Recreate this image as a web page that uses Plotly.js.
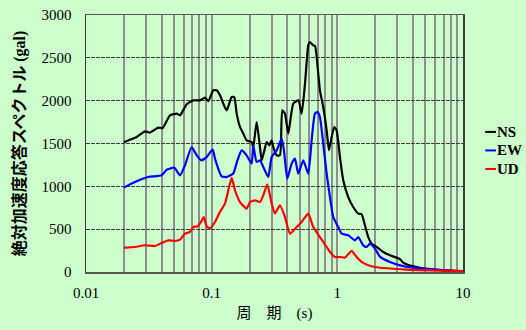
<!DOCTYPE html>
<html>
<head>
<meta charset="utf-8">
<script src="https://cdn.plot.ly/plotly-3.0.1.min.js"></script>
<style>
  html, body { margin: 0; padding: 0; background: #ccffcc; }
  #chart { width: 526px; height: 330px; }
</style>
</head>
<body>
<div id="chart"></div>
<script>
// Absolute acceleration response spectra (gal) versus period (s), three components.
const nsPeriod = [0.02, 0.0253, 0.0295, 0.0323, 0.0376, 0.0407, 0.0466, 0.0527, 0.056, 0.0633, 0.0714, 0.0807, 0.0885, 0.094, 0.103, 0.1096, 0.1164, 0.1237, 0.1317, 0.1443, 0.1514, 0.1581, 0.168, 0.1784, 0.1898, 0.2081, 0.2143, 0.228, 0.2423, 0.25, 0.2608, 0.274, 0.2873, 0.3002, 0.3091, 0.329, 0.3494, 0.3645, 0.383, 0.4068, 0.446, 0.49, 0.52, 0.553, 0.587, 0.605, 0.643, 0.664, 0.705, 0.727, 0.772, 0.822, 0.8575, 0.901, 0.945, 0.987, 1.049, 1.114, 1.221, 1.338, 1.467, 1.561, 1.658, 1.762, 1.875, 2.054, 2.318, 2.621, 2.963, 3.148, 3.345, 4.017, 5.134, 6.96, 10];
const nsAccel  = [1515, 1576, 1642, 1627, 1686, 1681, 1829, 1849, 1829, 1958, 2004, 2004, 2036, 1993, 2121, 2121, 2063, 1966, 1887, 2043, 2039, 1849, 1693, 1616, 1537, 1517, 1459, 1751, 1459, 1304, 1401, 1517, 1479, 1537, 1459, 1362, 1362, 1888, 1849, 1616, 1966, 2004, 1849, 2200, 2646, 2685, 2646, 2640, 2316, 2121, 1926, 1654, 1420, 1576, 1693, 1654, 1342, 1070, 875, 759, 682, 674, 545, 408, 331, 292, 233, 195, 168, 150, 110, 65, 35, 20, 8];

const ewPeriod = [0.02, 0.0245, 0.0313, 0.04, 0.0439, 0.0466, 0.0504, 0.056, 0.0613, 0.0693, 0.076, 0.0822, 0.0913, 0.1018, 0.1062, 0.1201, 0.1317, 0.1485, 0.16, 0.1733, 0.1898, 0.2081, 0.2143, 0.228, 0.2423, 0.2574, 0.2821, 0.3002, 0.329, 0.3605, 0.376, 0.3994, 0.433, 0.46, 0.4887, 0.5355, 0.5869, 0.6245, 0.6635, 0.697, 0.7271, 0.7724, 0.8222, 0.8734, 0.9278, 1.017, 1.082, 1.221, 1.38, 1.467, 1.607, 1.711, 1.817, 1.991, 2.183, 2.621, 3.148, 4.017, 5.794, 7.4, 10];
const ewAccel  = [985, 1051, 1109, 1129, 1195, 1207, 1219, 1129, 1245, 1459, 1362, 1304, 1342, 1429, 1324, 1117, 1109, 1149, 1300, 1420, 1362, 1265, 1479, 1284, 1304, 1226, 1109, 1342, 1420, 1557, 1420, 1090, 1265, 1324, 1149, 1304, 1149, 1537, 1849, 1868, 1809, 1499, 1149, 875, 642, 525, 448, 428, 370, 408, 311, 292, 331, 273, 180, 117, 78, 51, 31, 20, 8];

const udPeriod = [0.02, 0.0245, 0.0295, 0.0354, 0.04, 0.0452, 0.051, 0.056, 0.0613, 0.0672, 0.0714, 0.0774, 0.0822, 0.0864, 0.0913, 0.0969, 0.1062, 0.1164, 0.1276, 0.1443, 0.1532, 0.168, 0.1898, 0.2017, 0.2211, 0.2423, 0.2574, 0.277, 0.3002, 0.3189, 0.3494, 0.383, 0.4197, 0.4746, 0.52, 0.5869, 0.6432, 0.7271, 0.8222, 0.8734, 0.957, 1.049, 1.15, 1.30, 1.424, 1.561, 1.762, 1.991, 3.558, 9.45, 10];
const udAccel  = [285, 292, 312, 303, 339, 370, 362, 378, 448, 467, 525, 533, 584, 642, 533, 507, 584, 700, 798, 1100, 954, 817, 740, 817, 837, 817, 895, 1024, 798, 682, 779, 642, 448, 525, 584, 682, 525, 408, 292, 233, 175, 175, 168, 247, 175, 117, 78, 58, 28, 12, 10];

const seriesNames  = ['NS', 'EW', 'UD'];
const seriesColors = ['#000000', '#0000ff', '#ff0000'];

// Grid positions on the log period axis: every digit in each decade, labels at decades only.
const periodGrid = [];
const periodGridText = [];
[0.01, 0.1, 1].forEach(dec => {
  for (let d = 1; d <= 9; d++) {
    periodGrid.push(+(d * dec).toPrecision(3));
    periodGridText.push(d === 1 ? String(+(dec).toPrecision(3)) : '');
  }
});
periodGrid.push(10);
periodGridText.push('10');

const accelTicks = [0, 500, 1000, 1500, 2000, 2500, 3000];

const serif = 'Liberation Serif, Times New Roman, serif';
const gothic = 'Noto Sans CJK JP, sans-serif';

const makeTrace = (x, y, i) => ({
  x: x, y: y, type: 'scatter', mode: 'lines', name: seriesNames[i],
  line: { color: seriesColors[i], width: 2.2, shape: 'spline', smoothing: 0.5 }
});

const data = [
  makeTrace(nsPeriod, nsAccel, 0),
  makeTrace(ewPeriod, ewAccel, 1),
  makeTrace(udPeriod, udAccel, 2)
];

// Compact legend at the right: a short line sample followed by the component name.
const legendTop = 0.545, legendStep = 0.072;
const legendLineX0 = 1.059, legendLineX1 = 1.0875;
const legendShapes = seriesNames.map((n, i) => ({
  type: 'line', xref: 'paper', yref: 'paper',
  x0: legendLineX0, x1: legendLineX1,
  y0: legendTop - i * legendStep, y1: legendTop - i * legendStep,
  line: { color: seriesColors[i], width: 2 }
}));
const legendLabels = seriesNames.map((n, i) => ({
  xref: 'paper', yref: 'paper',
  x: legendLineX1, y: legendTop - i * legendStep,
  xanchor: 'left', yanchor: 'middle', showarrow: false,
  text: n, xshift: -1,
  font: { family: serif, size: 15, color: '#000', weight: 'bold' }
}));

const layout = {
  width: 526, height: 330,
  paper_bgcolor: '#ccffcc',
  plot_bgcolor: '#ccffcc',
  margin: { l: 86, r: 63, t: 15, b: 58 },
  font: { family: serif, size: 15, color: '#000' },
  showlegend: false,
  shapes: legendShapes,
  annotations: legendLabels,
  xaxis: {
    type: 'log', range: [-2, 1],
    tickmode: 'array', tickvals: periodGrid, ticktext: periodGridText,
    ticks: '', ticklabelstandoff: 6,
    showgrid: true, gridcolor: '#8f8f8f', gridwidth: 2,
    showline: true, linecolor: '#555555', linewidth: 1.5, mirror: true,
    zeroline: false,
    tickfont: { family: serif, size: 15, color: '#000' },
    title: {
      text: '周　期　<span style="font-family:Liberation Serif">(s)</span>',
      font: { family: gothic, size: 15, color: '#000' },
      standoff: 8
    }
  },
  yaxis: {
    range: [0, 3000], tickmode: 'array', tickvals: accelTicks,
    ticks: '', ticklabelstandoff: 10,
    showgrid: true, gridcolor: '#3c3c3c', gridwidth: 1.3, griddash: '4px,1px',
    showline: true, linecolor: '#3c3c3c', linewidth: 1.5, mirror: true,
    zeroline: false,
    tickfont: { family: serif, size: 15, color: '#000' },
    title: {
      text: '絶対加速度応答スペクトル <span style="font-family:Liberation Serif">(gal)</span>',
      font: { family: gothic, size: 16, color: '#000', weight: 'bold' },
      standoff: 12
    }
  }
};

Plotly.newPlot('chart', data, layout, { displayModeBar: false, staticPlot: true });
</script>
</body>
</html>
